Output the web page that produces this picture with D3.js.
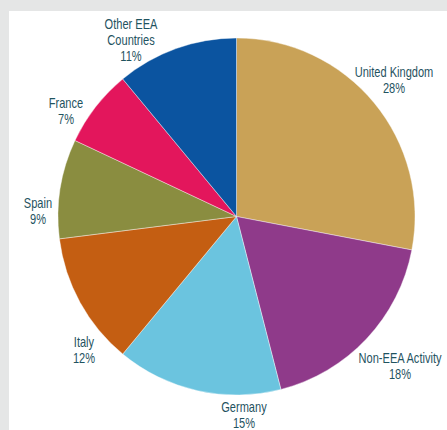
<!DOCTYPE html>
<html>
<head>
<meta charset="utf-8">
<script src="https://cdn.jsdelivr.net/npm/d3@7"></script>
<style>
html,body{margin:0;padding:0;background:#e5e6e6;}
svg{display:block;}
</style>
</head>
<body>
<svg id="chart" width="447" height="430"></svg>
<script>
const categories = ["United Kingdom", "Non-EEA Activity", "Germany", "Italy", "Spain", "France", "Other EEA Countries"];
const labelLines = [["United Kingdom"], ["Non-EEA Activity"], ["Germany"], ["Italy"], ["Spain"], ["France"], ["Other EEA", "Countries"]];
const values = [28, 18, 15, 12, 9, 7, 11];
const colors = ["#c9a257", "#8f3a8a", "#6bc4df", "#c45e12", "#8a8d40", "#e3165c", "#0b54a0"];

const W = 447, H = 430;
const svg = d3.select("#chart");
svg.append("rect").attr("x", 9).attr("y", 11).attr("width", W - 9).attr("height", H - 11).attr("fill", "#ffffff");

const cx = 236.5, cy = 216.5, R = 178.5, labelR = 201;
const g = svg.append("g").attr("transform", `translate(${cx},${cy})`);

const pie = d3.pie().sort(null).value(d => d)(values);
const arc = d3.arc().innerRadius(0).outerRadius(R);
const labelArc = d3.arc().innerRadius(labelR).outerRadius(labelR);

g.selectAll("path.slice").data(pie).join("path")
  .attr("class", "slice")
  .attr("d", arc)
  .attr("fill", (d, i) => colors[i])
  .attr("stroke", "#ffffff")
  .attr("stroke-width", 0.4);

// label nudges relative to the label-arc centroid
const nudge = [[2.6, -8.4], [17, 12.4], [51.3, 2.3], [23.6, 37.2], [0, 25.9], [-11.7, 17.7], [-37.4, 12.6]];
const lineH = 16;

pie.forEach((d, i) => {
  const [x, y] = labelArc.centroid(d);
  const lines = labelLines[i].concat([values[i] + "%"]);
  const px = x + nudge[i][0], py = y + nudge[i][1];
  const lg = g.append("g").attr("transform", `translate(${px},${py}) scale(0.79,1)`);
  const t = lg.append("text")
    .attr("text-anchor", "middle")
    .attr("font-family", "'Liberation Sans', Arial, sans-serif")
    .attr("font-size", 14)
    .attr("fill", "#1f535f");
  const top = -(lines.length - 1) * lineH / 2;
  lines.forEach((ln, k) => {
    t.append("tspan").attr("x", 0).attr("y", top + k * lineH).attr("dy", "0.35em").text(ln);
  });
});
</script>
</body>
</html>
